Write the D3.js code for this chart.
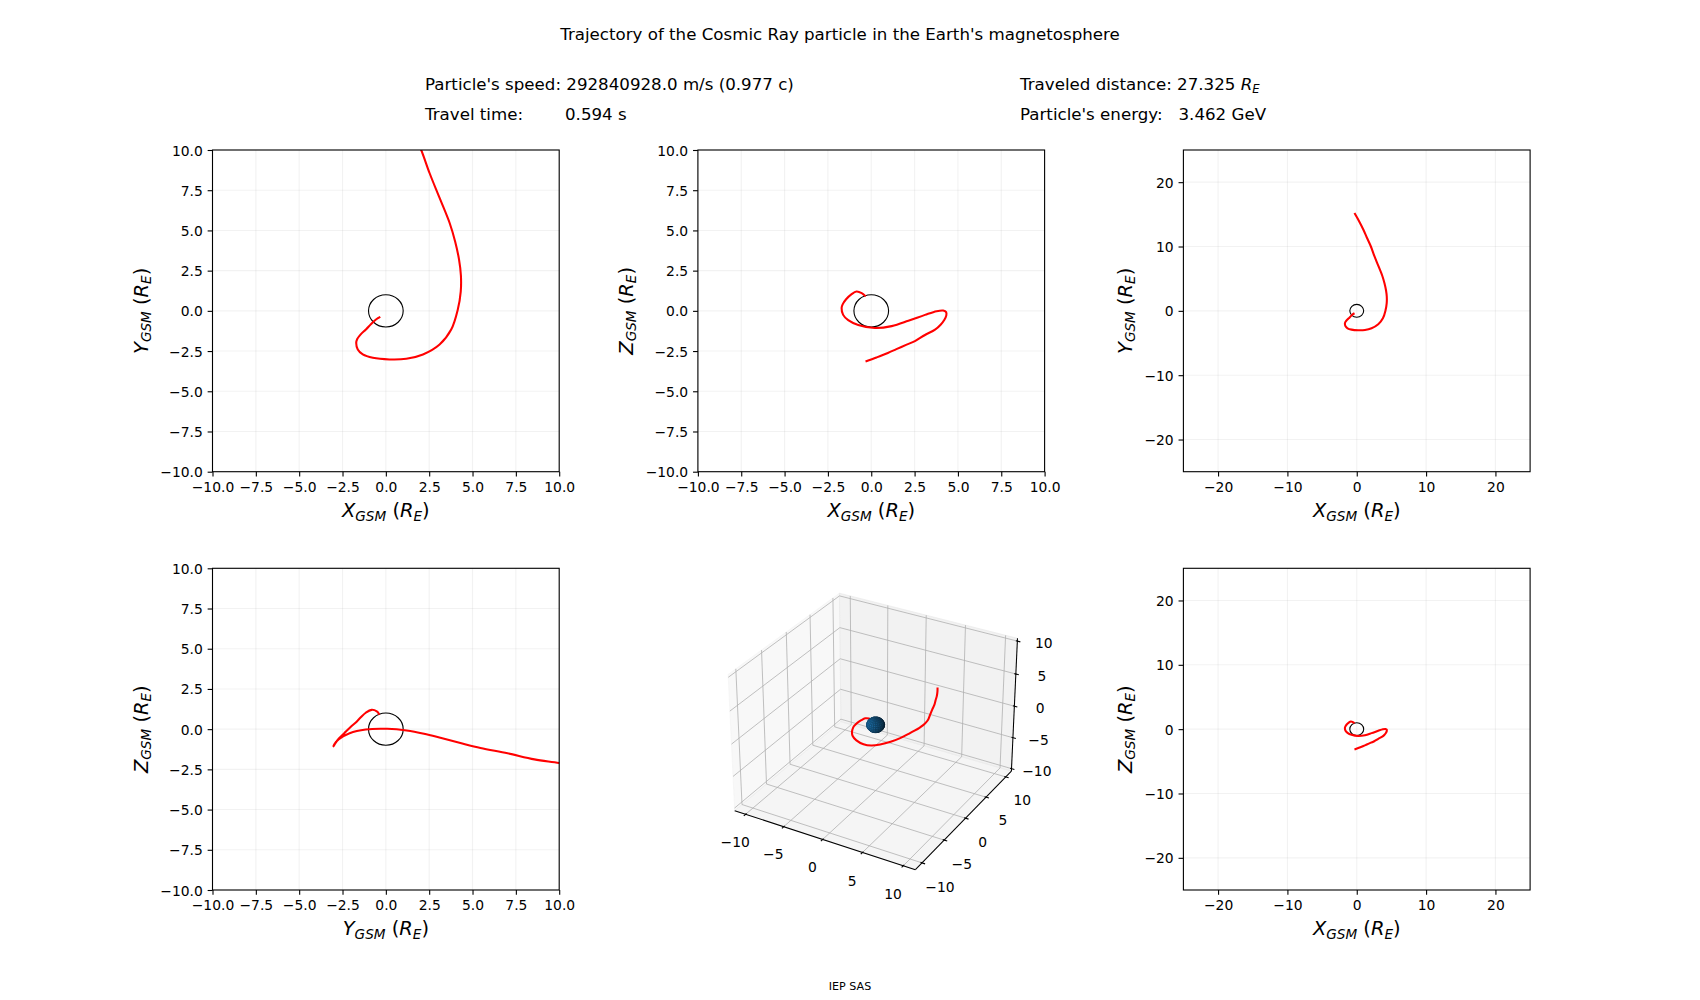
<!DOCTYPE html>
<html><head><meta charset="utf-8">
<script src="https://cdn.jsdelivr.net/npm/d3@7"></script>
<style>
body{margin:0;background:#fff}
svg{display:block}
text{font-family:"DejaVu Sans",sans-serif;fill:#000;white-space:pre}
</style>
</head><body>
<svg id="chart" width="1700" height="1000"></svg>
<script>
// ---------------- data ----------------
const trajX = [-0.32,-0.55,-0.85,-1.15,-1.45,-1.65,-1.71,-1.62,-1.33,-0.75,0.21,1.18,2.14,3.10,3.77,4.15,4.32,4.33,4.22,4.00,3.68,3.10,2.52,2.04,1.45,0.96,0.30,-0.33];
const trajY = [-0.37,-0.52,-0.82,-1.16,-1.46,-1.75,-1.99,-2.40,-2.71,-2.92,-3.02,-2.98,-2.71,-2.09,-1.16,0.08,1.20,2.20,3.20,4.30,5.46,7.02,8.57,10.0,11.4,12.6,14.0,15.2];
const trajZ = [0.90,1.10,1.20,1.02,0.72,0.40,0.18,-0.25,-0.58,-0.88,-1.07,-0.95,-0.62,-0.25,-0.02,0.02,-0.08,-0.28,-0.55,-0.86,-1.17,-1.50,-1.88,-2.10,-2.38,-2.62,-2.90,-3.15];
const earthRadius = 1;

const ticksNear = [-10,-7.5,-5,-2.5,0,2.5,5,7.5,10];
const ticksFar = [-20,-10,0,10,20];
const ticks3D = [-10,-5,0,5,10];

const titleText = "Trajectory of the Cosmic Ray particle in the Earth's magnetosphere";
const speedText = "Particle's speed: 292840928.0 m/s (0.977 c)";
const timeLabel = "Travel time:";
const timeValue = "0.594 s";
const distLabel = "Traveled distance: 27.325 ";
const energyLabel = "Particle's energy:";
const energyValue = "3.462 GeV";
const footerText = "IEP SAS";

// ---------------- layout ----------------
const svg = d3.select("#chart");
const FS_T = 13.89, FS_L = 19.44, FS_H = 16.67, FS_F = 11.11;
const cols = [212.5, 697.9, 1183.4], colW = 346.7;
const rows = [150, 568.3], rowH = 321.7;
const traj = trajX.map((x,i)=>({x:x, y:trajY[i], z:trajZ[i]}));

function addMath(text, parts, fs){
  let shifted = false;
  parts.forEach(([t, st]) => {
    const ts = text.append("tspan").text(t);
    if (st.includes("i")) ts.attr("font-style","italic");
    if (st.includes("s")) {
      ts.attr("font-size", fs*0.7);
      if (!shifted){ ts.attr("dy", fs*0.18); shifted = true; }
    } else if (shifted) { ts.attr("dy", -fs*0.18); shifted = false; }
  });
}

// ---------------- header ----------------
svg.append("text").attr("x",840).attr("y",40).attr("text-anchor","middle").attr("font-size",FS_H).text(titleText);
svg.append("text").attr("x",425).attr("y",90).attr("font-size",FS_H).text(speedText);
svg.append("text").attr("x",425).attr("y",120).attr("font-size",FS_H).text(timeLabel);
svg.append("text").attr("x",565).attr("y",120).attr("font-size",FS_H).text(timeValue);
const dt = svg.append("text").attr("x",1020).attr("y",90).attr("font-size",FS_H);
addMath(dt, [[distLabel,""],["R","i"],["E","is"]], FS_H);
svg.append("text").attr("x",1020).attr("y",120).attr("font-size",FS_H).text(energyLabel);
svg.append("text").attr("x",1178.5).attr("y",120).attr("font-size",FS_H).text(energyValue);
svg.append("text").attr("x",850).attr("y",990).attr("text-anchor","middle").attr("font-size",FS_F).text(footerText);

// ---------------- 2D panels ----------------
const panels = [
  {r:0,c:0,h:"x",v:"y",lim:10,ticks:ticksNear,fmt:d3.format(".1f"),xl:"X",yl:"Y"},
  {r:0,c:1,h:"x",v:"z",lim:10,ticks:ticksNear,fmt:d3.format(".1f"),xl:"X",yl:"Z"},
  {r:0,c:2,h:"x",v:"y",lim:25,ticks:ticksFar,fmt:d3.format("d"),xl:"X",yl:"Y"},
  {r:1,c:0,h:"y",v:"z",lim:10,ticks:ticksNear,fmt:d3.format(".1f"),xl:"Y",yl:"Z"},
  {r:1,c:2,h:"x",v:"z",lim:25,ticks:ticksFar,fmt:d3.format("d"),xl:"X",yl:"Z"}
];

panels.forEach((p, idx) => {
  const g = svg.append("g").attr("transform",`translate(${cols[p.c]},${rows[p.r]})`);
  const xs = d3.scaleLinear().domain([-p.lim,p.lim]).range([0,colW]);
  const ys = d3.scaleLinear().domain([-p.lim,p.lim]).range([rowH,0]);
  // grid
  const grid = g.append("g").attr("stroke","#b0b0b0").attr("stroke-opacity",0.16).attr("stroke-width",1.1);
  grid.selectAll(".gv").data(p.ticks).join("line").attr("x1",d=>xs(d)).attr("x2",d=>xs(d)).attr("y1",0).attr("y2",rowH);
  grid.selectAll(".gh").data(p.ticks).join("line").attr("y1",d=>ys(d)).attr("y2",d=>ys(d)).attr("x1",0).attr("x2",colW);
  // clip
  const cid = "clip"+idx;
  g.append("clipPath").attr("id",cid).append("rect").attr("width",colW).attr("height",rowH);
  // earth
  g.append("ellipse").attr("cx",xs(0)).attr("cy",ys(0))
    .attr("rx",xs(earthRadius)-xs(0)).attr("ry",ys(0)-ys(earthRadius))
    .attr("fill","none").attr("stroke","#000").attr("stroke-width",1.1);
  // trajectory
  const ln = d3.line().x(d=>xs(d[p.h])).y(d=>ys(d[p.v])).curve(d3.curveCatmullRom.alpha(0.5));
  g.append("path").attr("clip-path",`url(#${cid})`).attr("d",ln(traj))
    .attr("fill","none").attr("stroke","#ff0000").attr("stroke-width",2.08).attr("stroke-linejoin","round");
  // axes
  const ax = g.append("g").attr("transform",`translate(0,${rowH})`)
    .call(d3.axisBottom(xs).tickValues(p.ticks).tickFormat(p.fmt).tickSize(4.86).tickPadding(4.86).tickSizeOuter(0));
  const ay = g.append("g")
    .call(d3.axisLeft(ys).tickValues(p.ticks).tickFormat(p.fmt).tickSize(4.86).tickPadding(4.86).tickSizeOuter(0));
  [ax, ay].forEach(a => {
    a.attr("font-family",null).attr("font-size",null);
    a.select(".domain").remove();
    a.selectAll(".tick line").attr("stroke","#000").attr("stroke-width",1.1);
    a.selectAll(".tick text").attr("font-size",FS_T).attr("fill","#000");
  });
  ax.selectAll(".tick text").attr("dy","0.76em");
  ay.selectAll(".tick text").attr("dy","0.36em");
  // spines
  g.append("rect").attr("width",colW).attr("height",rowH).attr("fill","none").attr("stroke","#000").attr("stroke-width",1.1);
  // axis labels
  const xl = g.append("text").attr("x",colW/2).attr("y",rowH+45.5).attr("text-anchor","middle").attr("font-size",FS_L);
  addMath(xl, [[p.xl,"i"],["GSM","is"],[" (",""],["R","i"],["E","is"],[")",""]], FS_L);
  let maxW = 0;
  ay.selectAll(".tick text").each(function(){ maxW = Math.max(maxW, this.getComputedTextLength()); });
  const cx = -9.72 - maxW - 18.3 + 5.65;
  const yl = g.append("text").attr("transform",`translate(${cx},${rowH/2}) rotate(-90)`).attr("text-anchor","middle").attr("font-size",FS_L);
  addMath(yl, [[p.yl,"i"],["GSM","is"],[" (",""],["R","i"],["E","is"],[")",""]], FS_L);
});

// ---------------- 3D panel ----------------
(function draw3D(){
  const elev = 30, azim = -60, dist = 10;
  const lim3x = [-11,11], lim3y = [-11,11], lim3z = [-10,10];
  const side = rowH;
  const sqX = cols[1] + (colW - side)/2, sqY = rows[1];
  const nrm = Math.hypot(4,4,3);
  const aspect = [4,4,3].map(a => a*1.8294640721620434/nrm);
  const wx = d3.scaleLinear().domain(lim3x).range([0,aspect[0]]);
  const wy = d3.scaleLinear().domain(lim3y).range([0,aspect[1]]);
  const wz = d3.scaleLinear().domain(lim3z).range([0,aspect[2]]);
  const R = aspect.map(a => a/2);
  const el = elev*Math.PI/180, az = azim*Math.PI/180;
  const w = [Math.cos(el)*Math.cos(az), Math.cos(el)*Math.sin(az), Math.sin(el)];
  let u = [-w[1], w[0], 0];
  const un = Math.hypot(...u); u = u.map(a=>a/un);
  const v = [w[1]*u[2]-w[2]*u[1], w[2]*u[0]-w[0]*u[2], w[0]*u[1]-w[1]*u[0]];
  const dot = (a,b) => a[0]*b[0]+a[1]*b[1]+a[2]*b[2];
  const sx = d3.scaleLinear().domain([-0.95/dist, 0.9/dist]).range([sqX, sqX+side]);
  const sy = d3.scaleLinear().domain([-0.95/dist, 0.9/dist]).range([sqY+side, sqY]);
  function P(x,y,z){
    const q = [wx(x)-R[0], wy(y)-R[1], wz(z)-R[2]];
    const a = dot(u,q), b = dot(v,q), c = dot(w,q);
    const d = dist - c;
    return [sx(a/d), sy(b/d), c];
  }
  const dX = (lim3x[1]-lim3x[0])/12, dY = (lim3y[1]-lim3y[0])/12, dZ = (lim3z[1]-lim3z[0])/12;
  const x0 = lim3x[0]-dX/4, x1 = lim3x[1]+dX/4;
  const y0 = lim3y[0]-dY/4, y1 = lim3y[1]+dY/4;
  const z0 = lim3z[0]-dZ/4, z1 = lim3z[1]+dZ/4;
  const g = svg.append("g");
  const poly = pts => "M" + pts.map(p => { const s = P(...p); return s[0]+","+s[1]; }).join("L") + "Z";
  const path = pts => "M" + pts.map(p => { const s = P(...p); return s[0]+","+s[1]; }).join("L");
  // panes
  const panes = [
    {pts:[[x0,y0,z0],[x0,y1,z0],[x0,y1,z1],[x0,y0,z1]], col:"#f2f2f2"},
    {pts:[[x0,y1,z0],[x1,y1,z0],[x1,y1,z1],[x0,y1,z1]], col:"#e6e6e6"},
    {pts:[[x0,y0,z0],[x1,y0,z0],[x1,y1,z0],[x0,y1,z0]], col:"#ececec"}
  ];
  g.selectAll(".pane").data(panes).join("path").attr("d",d=>poly(d.pts))
    .attr("fill",d=>d.col).attr("fill-opacity",0.5).attr("stroke",d=>d.col).attr("stroke-opacity",0.5).attr("stroke-width",1);
  // grid
  const gridLines = [];
  ticks3D.forEach(t => {
    gridLines.push([[t,y0,z0],[t,y1,z0],[t,y1,z1]]);
    gridLines.push([[x0,t,z1],[x0,t,z0],[x1,t,z0]]);
    gridLines.push([[x1,y1,t],[x0,y1,t],[x0,y0,t]]);
  });
  g.selectAll(".grid3").data(gridLines).join("path").attr("d",path)
    .attr("fill","none").attr("stroke","#b0b0b0").attr("stroke-width",0.8);
  // axis lines
  const axLines = [
    [[x0,y0,z0],[x1,y0,z0]],
    [[x1,y0,z0],[x1,y1,z0]],
    [[x1,y1,z0],[x1,y1,z1]]
  ];
  g.selectAll(".axl").data(axLines).join("path").attr("d",path).attr("fill","none").attr("stroke","#000").attr("stroke-width",1.04);
  // ticks
  const tickSegs = [], labels = [];
  const lf = 11.5 * 48 / (72*2*side/100);
  ticks3D.forEach(t => {
    tickSegs.push([[t,y0+0.1*dY,z0],[t,y0-0.2*dY,z0]]);
    tickSegs.push([[x1-0.1*dX,t,z0],[x1+0.2*dX,t,z0]]);
    tickSegs.push([[x1-0.1*dX,y1,t],[x1+0.2*dX,y1,t]]);
    labels.push({t:t, p:[t, y0-lf*dY, z0-lf*dZ]});
    labels.push({t:t, p:[x1+lf*dX, t, z0-lf*dZ]});
    labels.push({t:t, p:[x1+lf*dX, y1+lf*dY, t]});
  });
  g.selectAll(".tk3").data(tickSegs).join("path").attr("d",path).attr("stroke","#000").attr("stroke-width",1.1);
  const fmt3 = d3.format("d");
  g.selectAll(".lb3").data(labels).join("text")
    .attr("x",d=>P(...d.p)[0]).attr("y",d=>P(...d.p)[1]).attr("dy","0.76em")
    .attr("text-anchor","middle").attr("font-size",FS_T).text(d=>fmt3(d.t));
  // trajectory
  const ln3 = d3.line().x(d=>P(d.x,d.y,d.z)[0]).y(d=>P(d.x,d.y,d.z)[1]).curve(d3.curveCatmullRom.alpha(0.5));
  g.append("path").attr("d",ln3(traj)).attr("fill","none").attr("stroke","#ff0000").attr("stroke-width",2.08).attr("stroke-linejoin","round");
  // earth sphere
  const nu = 24, nv = 12, facets = [];
  const L = [-0.6667,-0.6667,0.3333];
  const base = [31,119,180];
  for (let i=0;i<nu;i++) for (let j=0;j<nv;j++){
    const uu = [2*Math.PI*i/nu, 2*Math.PI*(i+1)/nu], vv = [Math.PI*j/nv, Math.PI*(j+1)/nv];
    const pts = [[uu[0],vv[0]],[uu[1],vv[0]],[uu[1],vv[1]],[uu[0],vv[1]]].map(([a,b]) =>
      [earthRadius*Math.cos(a)*Math.sin(b), earthRadius*Math.sin(a)*Math.sin(b), earthRadius*Math.cos(b)]);
    const c = [0,1,2].map(k => d3.mean(pts, p=>p[k]));
    const cn = Math.hypot(...c); const n = c.map(a=>a/cn);
    const k = 0.3 + 0.7*((dot(n,L)+1)/2);
    facets.push({pts:pts, depth:P(...c)[2], col:d3.rgb(base[0]*k, base[1]*k, base[2]*k)});
  }
  facets.sort((a,b)=>a.depth-b.depth);
  g.selectAll(".sph").data(facets).join("path").attr("d",d=>poly(d.pts))
    .attr("fill",d=>d.col).attr("stroke",d=>d.col.darker(1.2)).attr("stroke-width",0.5);
})();
</script>
</body></html>
